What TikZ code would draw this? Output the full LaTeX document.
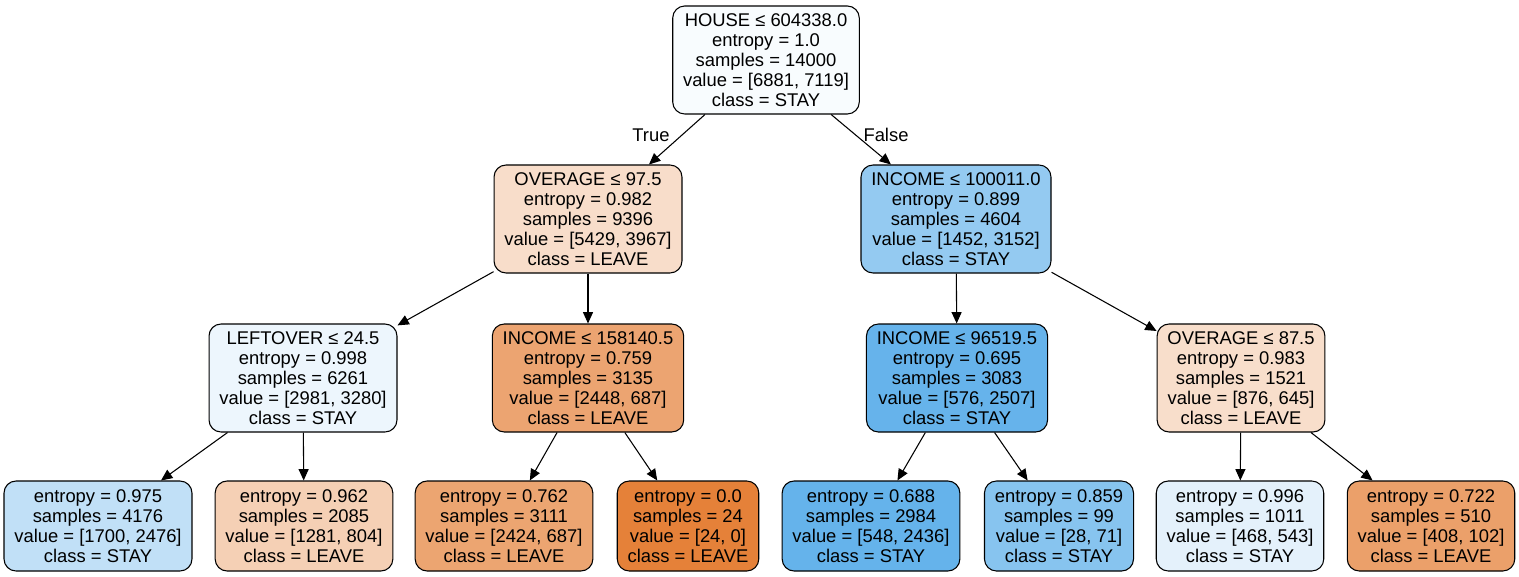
\documentclass[tikz,border=0pt]{standalone}
\usepackage{fontspec}
\setmainfont{Liberation Sans}
\usetikzlibrary{arrows.meta}
\definecolor{cRoot}{RGB}{248,252,254}
\definecolor{cA}{RGB}{248,221,202}
\definecolor{cB}{RGB}{148,202,241}
\definecolor{cC}{RGB}{237,246,253}
\definecolor{cD}{RGB}{236,164,113}
\definecolor{cE}{RGB}{102,179,235}
\definecolor{cF}{RGB}{248,222,203}
\definecolor{cL1}{RGB}{193,224,247}
\definecolor{cL2}{RGB}{245,208,181}
\definecolor{cL3}{RGB}{236,165,113}
\definecolor{cL4}{RGB}{229,129,57}
\definecolor{cL5}{RGB}{101,179,235}
\definecolor{cL6}{RGB}{135,196,239}
\definecolor{cL7}{RGB}{228,241,251}
\definecolor{cL8}{RGB}{235,160,106}
\begin{document}
\begin{tikzpicture}[x=0.75pt,y=-0.75pt,
  tnode/.style={draw=black, line width=0.8pt, rounded corners=9pt, align=center,
    font=\fontsize{13.8}{15}\selectfont, inner xsep=7.75pt, inner ysep=0pt},
  split/.style={tnode, minimum height=81pt},
  leaf/.style={tnode, minimum height=67.5pt},
  edge/.style={-{Triangle[length=8.5pt,width=7.5pt]}, line width=0.8pt},
  elab/.style={font=\fontsize{13.8}{15}\selectfont, inner sep=0pt}]
\useasboundingbox (0,0) rectangle (1519,577);
% level 0
\node[split, fill=cRoot] (root) at (766,60) {HOUSE ≤ 604338.0\\entropy = 1.0\\samples = 14000\\value = [6881, 7119]\\class = STAY};
% level 1
\node[split, fill=cA] (ovg) at (588,219) {OVERAGE ≤ 97.5\\entropy = 0.982\\samples = 9396\\value = [5429, 3967]\\class = LEAVE};
\node[split, fill=cB] (inc) at (956,219) {INCOME ≤ 100011.0\\entropy = 0.899\\samples = 4604\\value = [1452, 3152]\\class = STAY};
% level 2
\node[split, fill=cC] (lft) at (303,378) {LEFTOVER ≤ 24.5\\entropy = 0.998\\samples = 6261\\value = [2981, 3280]\\class = STAY};
\node[split, fill=cD] (incb) at (588,378) {INCOME ≤ 158140.5\\entropy = 0.759\\samples = 3135\\value = [2448, 687]\\class = LEAVE};
\node[split, fill=cE] (incc) at (957,378) {INCOME ≤ 96519.5\\entropy = 0.695\\samples = 3083\\value = [576, 2507]\\class = STAY};
\node[split, fill=cF] (ovgb) at (1241,378) {OVERAGE ≤ 87.5\\entropy = 0.983\\samples = 1521\\value = [876, 645]\\class = LEAVE};
% level 3
\node[leaf, fill=cL1] (l1) at (98,526) {entropy = 0.975\\samples = 4176\\value = [1700, 2476]\\class = STAY};
\node[leaf, fill=cL2] (l2) at (304,526) {entropy = 0.962\\samples = 2085\\value = [1281, 804]\\class = LEAVE};
\node[leaf, fill=cL3] (l3) at (504,526) {entropy = 0.762\\samples = 3111\\value = [2424, 687]\\class = LEAVE};
\node[leaf, fill=cL4] (l4) at (688,526) {entropy = 0.0\\samples = 24\\value = [24, 0]\\class = LEAVE};
\node[leaf, fill=cL5] (l5) at (871,526) {entropy = 0.688\\samples = 2984\\value = [548, 2436]\\class = STAY};
\node[leaf, fill=cL6] (l6) at (1059,526) {entropy = 0.859\\samples = 99\\value = [28, 71]\\class = STAY};
\node[leaf, fill=cL7] (l7) at (1240,526) {entropy = 0.996\\samples = 1011\\value = [468, 543]\\class = STAY};
\node[leaf, fill=cL8] (l8) at (1431,526) {entropy = 0.722\\samples = 510\\value = [408, 102]\\class = LEAVE};
% edges
\draw[edge] (root) -- (ovg);
\draw[edge] (root) -- (inc);
\node[elab] (tlab) at (651,135) {True};
\node[elab] (flab) at (886,135) {False};
\draw[edge] (ovg) -- (lft);
\draw[edge] (ovg) -- (incb);
\draw[edge] (inc) -- (incc);
\draw[edge] (inc) -- (ovgb);
\draw[edge] (lft) -- (l1);
\draw[edge] (lft) -- (l2);
\draw[edge] (incb) -- (l3);
\draw[edge] (incb) -- (l4);
\draw[edge] (incc) -- (l5);
\draw[edge] (incc) -- (l6);
\draw[edge] (ovgb) -- (l7);
\draw[edge] (ovgb) -- (l8);
\end{tikzpicture}
\end{document}
